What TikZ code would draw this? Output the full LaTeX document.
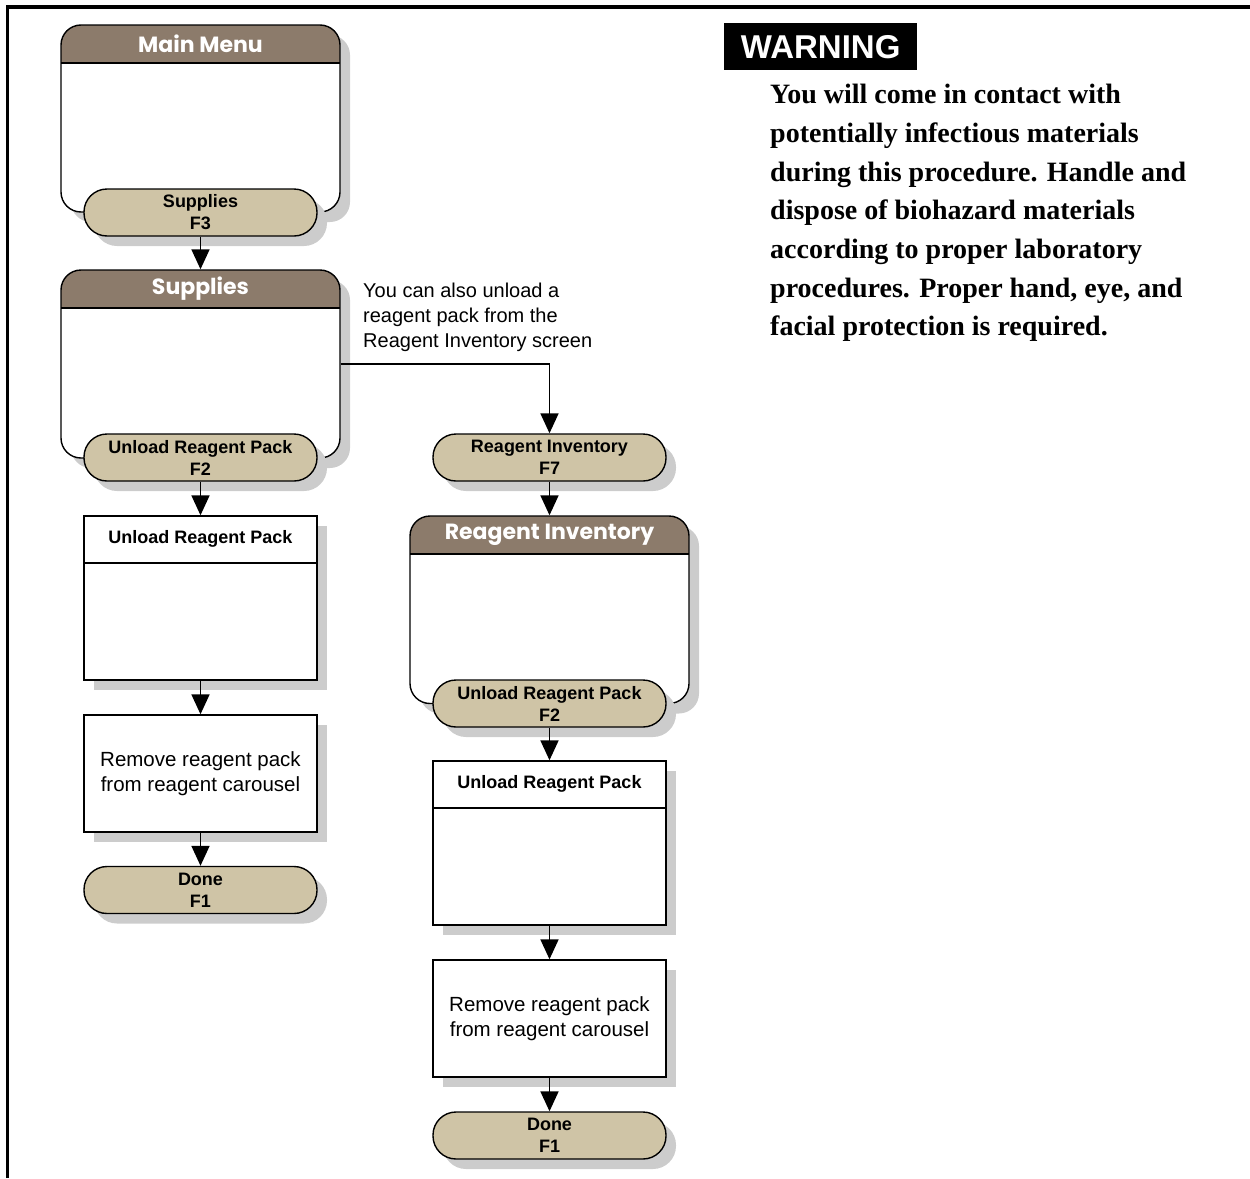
\documentclass[tikz,border=0pt]{standalone}
\usepackage{fontspec}
\setmainfont{Liberation Sans}
\newfontfamily\hdrfont{Poppins}
\newfontfamily\serifbold{Liberation Serif}
\usetikzlibrary{shadows,arrows.meta,calc}

\definecolor{hdrbrown}{HTML}{8C7B6B}
\definecolor{btntan}{HTML}{CFC4A6}
\definecolor{shadowgray}{HTML}{CCCCCC}

\tikzset{
  shade/.style={drop shadow={shadow xshift=10pt, shadow yshift=-10pt, fill=shadowgray, opacity=1}},
  window/.style={draw, line width=1.4pt, fill=white, rounded corners=20pt,
    minimum width=279pt, inner sep=0pt, shade,
    path picture={
      \fill[hdrbrown, sharp corners] (path picture bounding box.north west)
        rectangle ([yshift=-38pt]path picture bounding box.north east);
      \draw[line width=1.4pt, sharp corners] ([yshift=-38pt]path picture bounding box.north west)
        -- ([yshift=-38pt]path picture bounding box.north east);}},
  wintitle/.style={text=white, inner sep=0pt, font=\hdrfont\bfseries\fontsize{22}{22}\selectfont},
  btn/.style={draw, line width=1.4pt, fill=btntan, rounded corners=23pt,
    minimum width=233pt, minimum height=47pt, inner sep=0pt, align=center,
    font=\bfseries\fontsize{18}{22}\selectfont, shade},
  panel/.style={draw, line width=1.4pt, fill=white, minimum width=233pt, inner sep=0pt, shade},
  hpanel/.style={panel,
    path picture={
      \draw[line width=1.4pt] ([yshift=-47pt]path picture bounding box.north west)
        -- ([yshift=-47pt]path picture bounding box.north east);}},
  paneltitle/.style={inner sep=0pt, font=\bfseries\fontsize{18}{22}\selectfont},
  steptext/.style={panel, align=center, font=\fontsize{20.5}{25}\selectfont},
  arr/.style={line width=1.8pt, -{Triangle[length=20pt,width=18pt]}},
}

\begin{document}
\begin{tikzpicture}[x=1pt, y=-1pt]
\useasboundingbox (0,0) rectangle (1250,1178);

% page frame
\draw[line width=3.5pt] (7.5,1178) -- (7.5,7) -- (1250,7);

% left column
\node[window, minimum height=187pt] (mm) at (200.5,118.5) {};
\node[wintitle] (mmT) at ($(mm.north)+(0,19)$) {Main Menu};
\node[btn] (b1) at (200.5,212.5) {Supplies\\F3};

\node[window, minimum height=188pt] (sup) at (200.5,364) {};
\node[wintitle] (supT) at ($(sup.north)+(0,19)$) {Supplies};
\node[btn] (b2) at (200.5,457.5) {Unload Reagent Pack\\F2};

\node[hpanel, minimum height=164pt] (u1) at (200.5,598) {};
\node[paneltitle] (u1T) at ($(u1.north)+(0,23.5)$) {Unload Reagent Pack};

\node[steptext, minimum height=117pt] (r1) at (200.5,773.5) {Remove reagent pack\\from reagent carousel};
\node[btn] (d1) at (200.5,890) {Done\\F1};

% right column
\node[btn] (b3) at (549.5,457.5) {Reagent Inventory\\F7};
\node[window, minimum height=187.5pt, minimum width=279pt] (riw) at (549.5,609.75) {};
\node[wintitle] (riwT) at ($(riw.north)+(0,19)$) {Reagent Inventory};
\node[btn] (b4) at (549.5,703.5) {Unload Reagent Pack\\F2};

\node[hpanel, minimum height=164pt] (u2) at (549.5,843) {};
\node[paneltitle] (u2T) at ($(u2.north)+(0,23.5)$) {Unload Reagent Pack};

\node[steptext, minimum height=117pt] (r2) at (549.5,1018.5) {Remove reagent pack\\from reagent carousel};
\node[btn] (d2) at (549.5,1135.5) {Done\\F1};

% note
\node[anchor=north west, align=left, inner sep=0pt, font=\fontsize{20}{25}\selectfont] (note)
  at (363,283) {You can also unload a\\reagent pack from the\\Reagent Inventory screen};

% connectors
\draw[arr] (b1.south) -- (sup.north);
\draw[arr] (b2.south) -- (u1.north);
\draw[arr] (u1.south) -- (r1.north);
\draw[arr] (r1.south) -- (d1.north);
\draw[arr] (sup.east) -| (b3.north);
\draw[arr] (b3.south) -- (riw.north);
\draw[arr] (b4.south) -- (u2.north);
\draw[arr] (u2.south) -- (r2.north);
\draw[arr] (r2.south) -- (d2.north);

% warning
\node[fill=black, minimum width=193pt, minimum height=47pt, anchor=north west, inner sep=0pt,
  text=white, font=\bfseries\fontsize{33}{33}\selectfont] (warn) at (724,23) {WARNING};
\node[anchor=north west, inner sep=0pt, align=left,
  font=\serifbold\bfseries\fontsize{28}{38.7}\selectfont] (wtext) at (770,84)
  {You will come in contact with\\potentially infectious materials\\during this procedure. Handle and\\dispose of biohazard materials\\according to proper laboratory\\procedures. Proper hand, eye, and\\facial protection is required.};
\end{tikzpicture}
\end{document}
